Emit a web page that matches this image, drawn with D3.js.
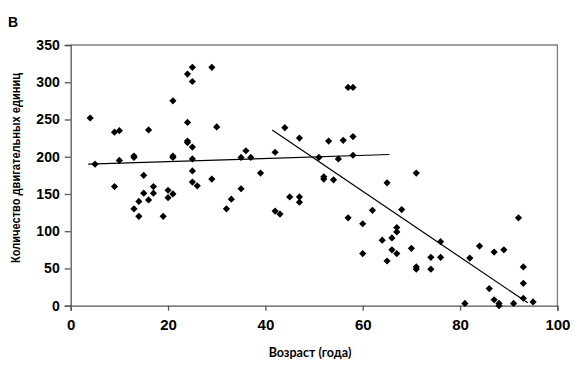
<!DOCTYPE html>
<html>
<head>
<meta charset="utf-8">
<script src="https://cdn.jsdelivr.net/npm/d3@7"></script>
<style>
  html, body { margin: 0; padding: 0; background: #fff; }
  svg { display: block; }
</style>
</head>
<body>
<script>
// ---- data ----
const panelLabel = "В";
const xLabel = "Возраст (года)";
const yLabel = "Количество двигательных единиц";
const xTicks = [0, 20, 40, 60, 80, 100];
const yTicks = [0, 50, 100, 150, 200, 250, 300, 350];

const ages = [4, 5, 9, 9, 10, 10, 13, 13, 13, 14, 14, 15, 15, 16, 16, 17, 17, 19, 20, 20, 21, 21, 21, 21,
  24, 25, 25, 24, 24, 24, 25, 25, 25, 25, 26, 29, 30, 29, 32, 33, 35, 35, 36, 37, 39,
  42, 42, 43, 44, 45, 47, 47, 47, 51, 52, 52, 53, 54, 55, 56, 57, 58, 58, 58, 57,
  60, 60, 62, 64, 65, 65, 66, 66, 67, 67, 67, 68, 70, 71, 71, 71, 74, 74, 76, 76,
  81, 82, 84, 86, 87, 87, 88, 88, 89, 91, 92, 93, 93, 93, 95];
const units = [252, 190, 233, 160, 235, 195, 201, 130, 199, 140, 120, 151, 175, 236, 142, 151, 160, 120, 155, 145, 150, 275, 201, 199,
  311, 320, 301, 246, 221, 219, 213, 197, 181, 166, 161, 320, 240, 170, 130, 143, 157, 199, 208, 199, 178,
  206, 127, 123, 239, 146, 225, 146, 139, 199, 173, 170, 221, 169, 197, 222, 293, 293, 227, 202, 118,
  110, 70, 128, 88, 60, 165, 91, 75, 105, 99, 70, 129, 77, 178, 52, 49, 65, 49, 65, 86,
  3, 64, 80, 23, 72, 8, 3, 0, 75, 3, 118, 52, 30, 10, 5];

// trend lines (end points)
const trend1X = [3.6, 65.5];
const trend1Y = [190, 203];
const trend2X = [41.4, 93.9];
const trend2Y = [235.8, 3.8];

// ---- layout ----
const W = 586, H = 366;
const M = { left: 70.7, right: 586 - 557.4, top: 45, bottom: 366 - 305.7 };

const svg = d3.select("body").append("svg").attr("width", W).attr("height", H);

const x = d3.scaleLinear().domain([0, 100]).range([M.left, W - M.right]);
const y = d3.scaleLinear().domain([0, 350]).range([H - M.bottom, M.top]);

// frame (top & right)
svg.append("path")
  .attr("d", `M${x(0)},${y(350)}H${x(100)}V${y(0)}`)
  .attr("fill", "none").attr("stroke", "#808080").attr("stroke-width", 1.3);

const tickFont = "'Liberation Sans', Arial, sans-serif";

// y axis
const yAxis = svg.append("g").attr("transform", `translate(${x(0)},0)`)
  .call(d3.axisLeft(y).tickValues(yTicks).tickSize(6).tickPadding(5).tickFormat(d3.format("d")));
yAxis.select(".domain").attr("stroke", "#555").attr("stroke-width", 1.3);
yAxis.selectAll(".tick line").attr("stroke", "#555").attr("stroke-width", 1.3);
yAxis.selectAll(".tick text").attr("font-family", tickFont).attr("font-weight", "bold")
  .attr("font-size", 14).attr("fill", "#000");

// x axis
const xAxis = svg.append("g").attr("transform", `translate(0,${y(0)})`)
  .call(d3.axisBottom(x).tickValues(xTicks).tickSize(5).tickPadding(9).tickFormat(d3.format("d")));
xAxis.select(".domain").attr("stroke", "#555").attr("stroke-width", 1.3);
xAxis.selectAll(".tick line").attr("stroke", "#555").attr("stroke-width", 1.3);
xAxis.selectAll(".tick text").attr("font-family", tickFont).attr("font-weight", "bold")
  .attr("font-size", 15).attr("fill", "#000");

// points
const pts = ages.map((a, i) => ({ a, u: units[i] }));
const diamond = d3.symbol().type(d3.symbolSquare).size(26);
svg.append("g").selectAll("path").data(pts).join("path")
  .attr("d", diamond)
  .attr("transform", d => `translate(${x(d.a)},${y(d.u)}) rotate(45)`)
  .attr("fill", "#000");

// trend lines
const line = d3.line().x(d => x(d[0])).y(d => y(d[1]));
svg.append("path").datum(d3.zip(trend1X, trend1Y)).attr("d", line)
  .attr("fill", "none").attr("stroke", "#000").attr("stroke-width", 1.2);
svg.append("path").datum(d3.zip(trend2X, trend2Y)).attr("d", line)
  .attr("fill", "none").attr("stroke", "#000").attr("stroke-width", 1.2);

// labels
svg.append("text").text(panelLabel)
  .attr("x", 8).attr("y", 26.5)
  .attr("font-family", tickFont).attr("font-weight", "bold").attr("font-size", 14);

svg.append("text").text(xLabel)
  .attr("x", 310).attr("y", 356.5).attr("text-anchor", "middle")
  .attr("font-family", "Lato, 'Open Sans', sans-serif").attr("font-weight", "bold").attr("font-size", 12.5);

svg.append("text").text(yLabel)
  .attr("transform", `translate(20,168) rotate(-90)`).attr("text-anchor", "middle")
  .attr("textLength", 190).attr("lengthAdjust", "spacingAndGlyphs")
  .attr("font-family", "'Liberation Sans Narrow', 'Arial Narrow', 'Liberation Sans', sans-serif")
  .attr("font-weight", "bold").attr("font-size", 12);
</script>
</body>
</html>
